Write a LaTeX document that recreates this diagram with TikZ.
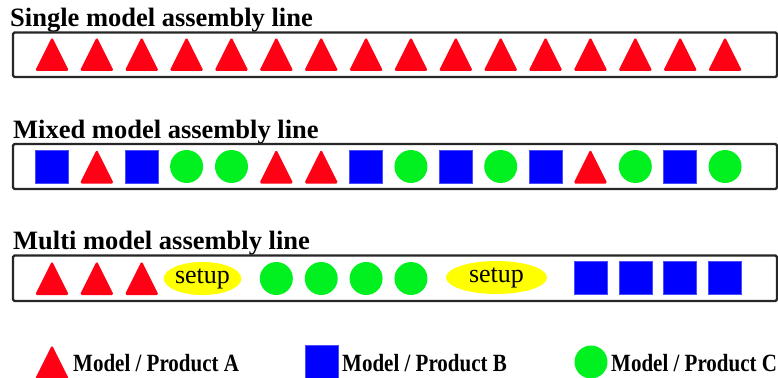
\documentclass[tikz,border=0pt]{standalone}
\usepackage{fontspec}
\setmainfont{Liberation Serif}
\usetikzlibrary{shapes.geometric}
\definecolor{pA}{HTML}{FF0014}
\definecolor{pB}{HTML}{0000FF}
\definecolor{pC}{HTML}{00F020}
\definecolor{setupY}{HTML}{FFFF00}
\newcommand{\legstretch}[1]{\scalebox{1}[1.18]{#1}}
\begin{document}
\begin{tikzpicture}[x=1pt,y=-1pt,
  linebox/.style={draw=black!85,line width=2.4pt,rounded corners=1.5pt},
  titletext/.style={anchor=base west,inner sep=0pt,font=\fontsize{26.5}{26}\selectfont\bfseries},
  legtext/.style={anchor=base west,inner sep=0pt,font=\fontsize{21}{21}\selectfont\bfseries},
  sqB/.style={fill=pB,draw=pB!70!white,line width=0.4pt,minimum size=33pt,inner sep=0pt,outer sep=0pt},
  cirC/.style={circle,fill=pC,minimum size=33pt,inner sep=0pt},
  setupbox/.style={ellipse,fill=setupY,inner sep=0pt,font=\fontsize{26}{26}\selectfont},
  triA/.pic={\fill[pA,rounded corners=1.8pt] (-17,17) -- (0,-17) -- (17,17) -- cycle;}
]
\useasboundingbox (0,0) rectangle (778,377);
% titles
\node[titletext] (t1) at (10,27) {Single model assembly line};
\node[titletext] (t2) at (13,139) {Mixed model assembly line};
\node[titletext] (t3) at (13,249) {Multi model assembly line};
% boxes
\draw[linebox] (13,32.5) rectangle (777,77);
\draw[linebox] (13,144) rectangle (777,189);
\draw[linebox] (13,255.5) rectangle (777,301);
% line 1
\foreach \i in {0,...,15}{
  \pic at ({52+44.87*\i},54) {triA};
}
% line 2: B A B C C A A B C B C B A C B C
\foreach \k in {1,5,6,12}{\pic at ({52+44.87*\k},166.5) {triA};}
\foreach \k in {0,2,7,9,11,14}{\node[sqB] (mb\k) at ({52+44.87*\k},166.5) {};}
\foreach \k in {3,4,8,10,13,15}{\node[cirC] (mc\k) at ({52+44.87*\k},166.5) {};}
% line 3
\foreach \k in {0,1,2}{\pic at ({52+44.87*\k},278) {triA};}
\node[setupbox,minimum width=69pt,minimum height=33pt] (su1) at (202.5,278.5) {\raisebox{-2pt}{setup}};
\foreach \k in {5,6,7,8}{\node[cirC] (c\k) at ({52+44.87*\k},278.5) {};}
\node[setupbox,minimum width=101pt,minimum height=33pt] (su2) at (496.5,277.5) {\raisebox{-2pt}{setup}};
\foreach \k in {12,...,15}{\node[sqB] (b\k) at ({52+44.87*\k},278) {};}
% legend
\pic at (52,362) {triA};
\node[legtext] (la) at (73,371.5) {\legstretch{Model / Product A}};
\node[sqB] (lb) at (321.5,362) {};
\node[legtext] (lbt) at (342,371.5) {\legstretch{Model / Product B}};
\node[cirC] (lc) at (591,362) {};
\node[legtext] (lct) at (611,371.5) {\legstretch{Model / Product C}};
\end{tikzpicture}
\end{document}
